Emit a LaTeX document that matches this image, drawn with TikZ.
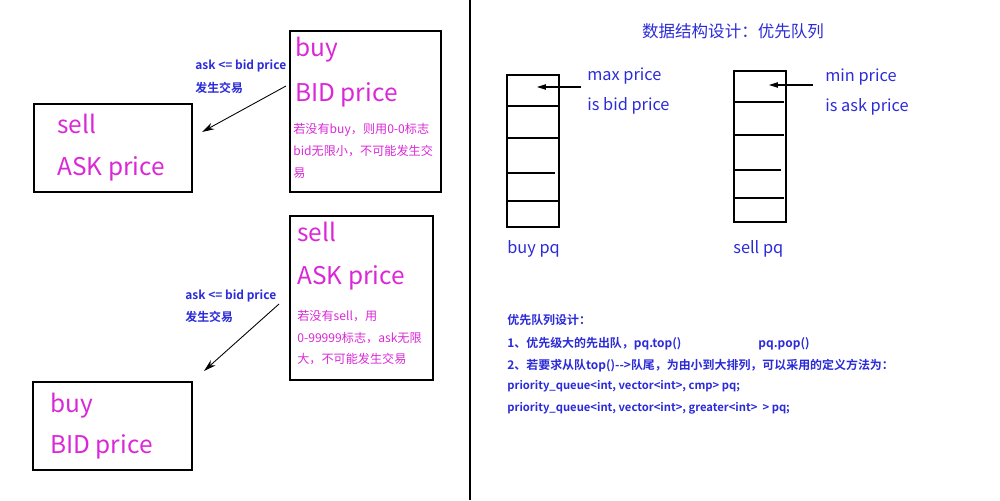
\documentclass[tikz,border=0pt]{standalone}
\usepackage{fontspec}
\setmainfont{Noto Sans CJK SC}[BoldFont={Noto Sans CJK SC Bold}]
\usetikzlibrary{arrows.meta,positioning}
\definecolor{Mc}{HTML}{DA28D6}
\definecolor{Bc}{HTML}{2B2BD8}
\tikzset{
  box/.style={draw=black, line width=1.1pt, inner sep=0pt, anchor=north west},
  pqbox/.style={draw=black, line width=1.1pt, inner sep=0pt, anchor=north west, minimum width=1.04cm},
  big/.style={anchor=base west, inner sep=0pt, text=Mc, font=\fontsize{13.9pt}{16pt}\selectfont},
  note/.style={anchor=base west, inner sep=0pt, text=Mc, font=\fontsize{6.9pt}{8pt}\selectfont},
  cond/.style={anchor=base west, inner sep=0pt, text=Bc, font=\bfseries\fontsize{6.8pt}{8pt}\selectfont},
  lbl/.style={anchor=base west, inner sep=0pt, text=Bc, font=\fontsize{9.3pt}{11pt}\selectfont},
  code/.style={anchor=base west, inner sep=0pt, text=Bc, font=\bfseries\fontsize{6.4pt}{8pt}\selectfont},
  codecn/.style={code, font=\bfseries\fontsize{6.8pt}{8pt}\selectfont},
  link/.style={-{Stealth[length=7pt, width=4pt]}, line width=0.5pt},
  ptr/.style={-{Triangle[length=5pt, width=3pt]}, line width=0.6pt},
}
\begin{document}
\begin{tikzpicture}[x=0.02cm, y=-0.02cm]
  \useasboundingbox (0,0) rectangle (1000,500);
  \draw[line width=0.6pt] (470,0) -- (470,500);
  % left: order boxes
  \node[box, minimum width=3.16cm, minimum height=1.76cm] (sellA) at (33,103) {};
  \node[box, minimum width=3.02cm, minimum height=3.22cm] (buyA) at (289,30) {};
  \node[box, minimum width=2.86cm, minimum height=3.28cm] (sellB) at (289,215) {};
  \node[box, minimum width=3.18cm, minimum height=1.76cm] (buyB) at (32,381) {};
  \node[big] at (57,133) {sell};
  \node[big] at (57,175) {ASK price};
  \node[big] at (295,57) {buy};
  \node[big] at (295,102) {BID price};
  \node[note] at (293,133) {若没有buy，则用0-0标志};
  \node[note] at (293,155) {bid无限小，不可能发生交};
  \node[note] at (293,177) {易};
  \node[big] at (297,241) {sell};
  \node[big] at (297,284) {ASK price};
  \node[note] at (297,320) {若没有sell，用};
  \node[note] at (297,342) {0-99999标志，ask无限};
  \node[note] at (297,363) {大，不可能发生交易};
  \node[big] at (50,412) {buy};
  \node[big] at (50,453) {BID price};
  \node[cond] at (195,70) {ask <= bid price};
  \node[cond] at (195,92) {发生交易};
  \node[cond] at (185,299) {ask <= bid price};
  \node[cond] at (185,321) {发生交易};
  \coordinate (fromA) at (286,86);
  \coordinate (toA) at (202,132);
  \coordinate (fromB) at (279,304);
  \coordinate (toB) at (204,371);
  \draw[link] (fromA) -- (toA);
  \draw[link] (fromB) -- (toB);
  % right: priority queues
  \node[Bc, font=\fontsize{9.4pt}{11pt}\selectfont, inner sep=0pt] (title) at (733,31) {数据结构设计：优先队列};
  \node[pqbox, minimum height=3.04cm] (buypq) at (506,74) {};
  \node[pqbox, minimum height=3.02cm] (sellpq) at (733,70) {};
  \foreach \yy/\xa/\xb in {106/506/560, 138/506/558, 173/506/555, 201/508/558}
    \draw[line width=0.6pt] (\xa,\yy) -- (\xb,\yy);
  \foreach \yy/\xa/\xb in {102/733/784, 135/733/784, 170/734/781, 198/733/784}
    \draw[line width=0.6pt] (\xa,\yy) -- (\xb,\yy);
  \coordinate (maxp) at (581,87);
  \coordinate (maxtop) at (537,87);
  \coordinate (minp) at (813,85);
  \coordinate (mintop) at (769,85);
  \draw[ptr] (maxp) -- (maxtop);
  \draw[ptr] (minp) -- (mintop);
  \node[lbl] at (587,81) {max price};
  \node[lbl] at (587,111) {is bid price};
  \node[lbl] at (825,82) {min price};
  \node[lbl] at (825,112) {is ask price};
  \node[lbl] at (507,253) {buy pq};
  \node[lbl] at (733,253) {sell pq};
  % notes
  \node[codecn] at (507,324) {优先队列设计：};
  \node[codecn] at (507,347) {1、优先级大的先出队，pq.top()};
  \node[codecn] at (758,347) {pq.pop()};
  \node[codecn] at (507,369) {2、若要求从队top()-{}-{}>队尾，为由小到大排列，可以采用的定义方法为：};
  \node[code] at (507,389) {priority\_queue<int, vector<int>, cmp> pq;};
  \node[code] at (507,411) {priority\_queue<int, vector<int>, greater<int>~~> pq;};
\end{tikzpicture}
\end{document}
